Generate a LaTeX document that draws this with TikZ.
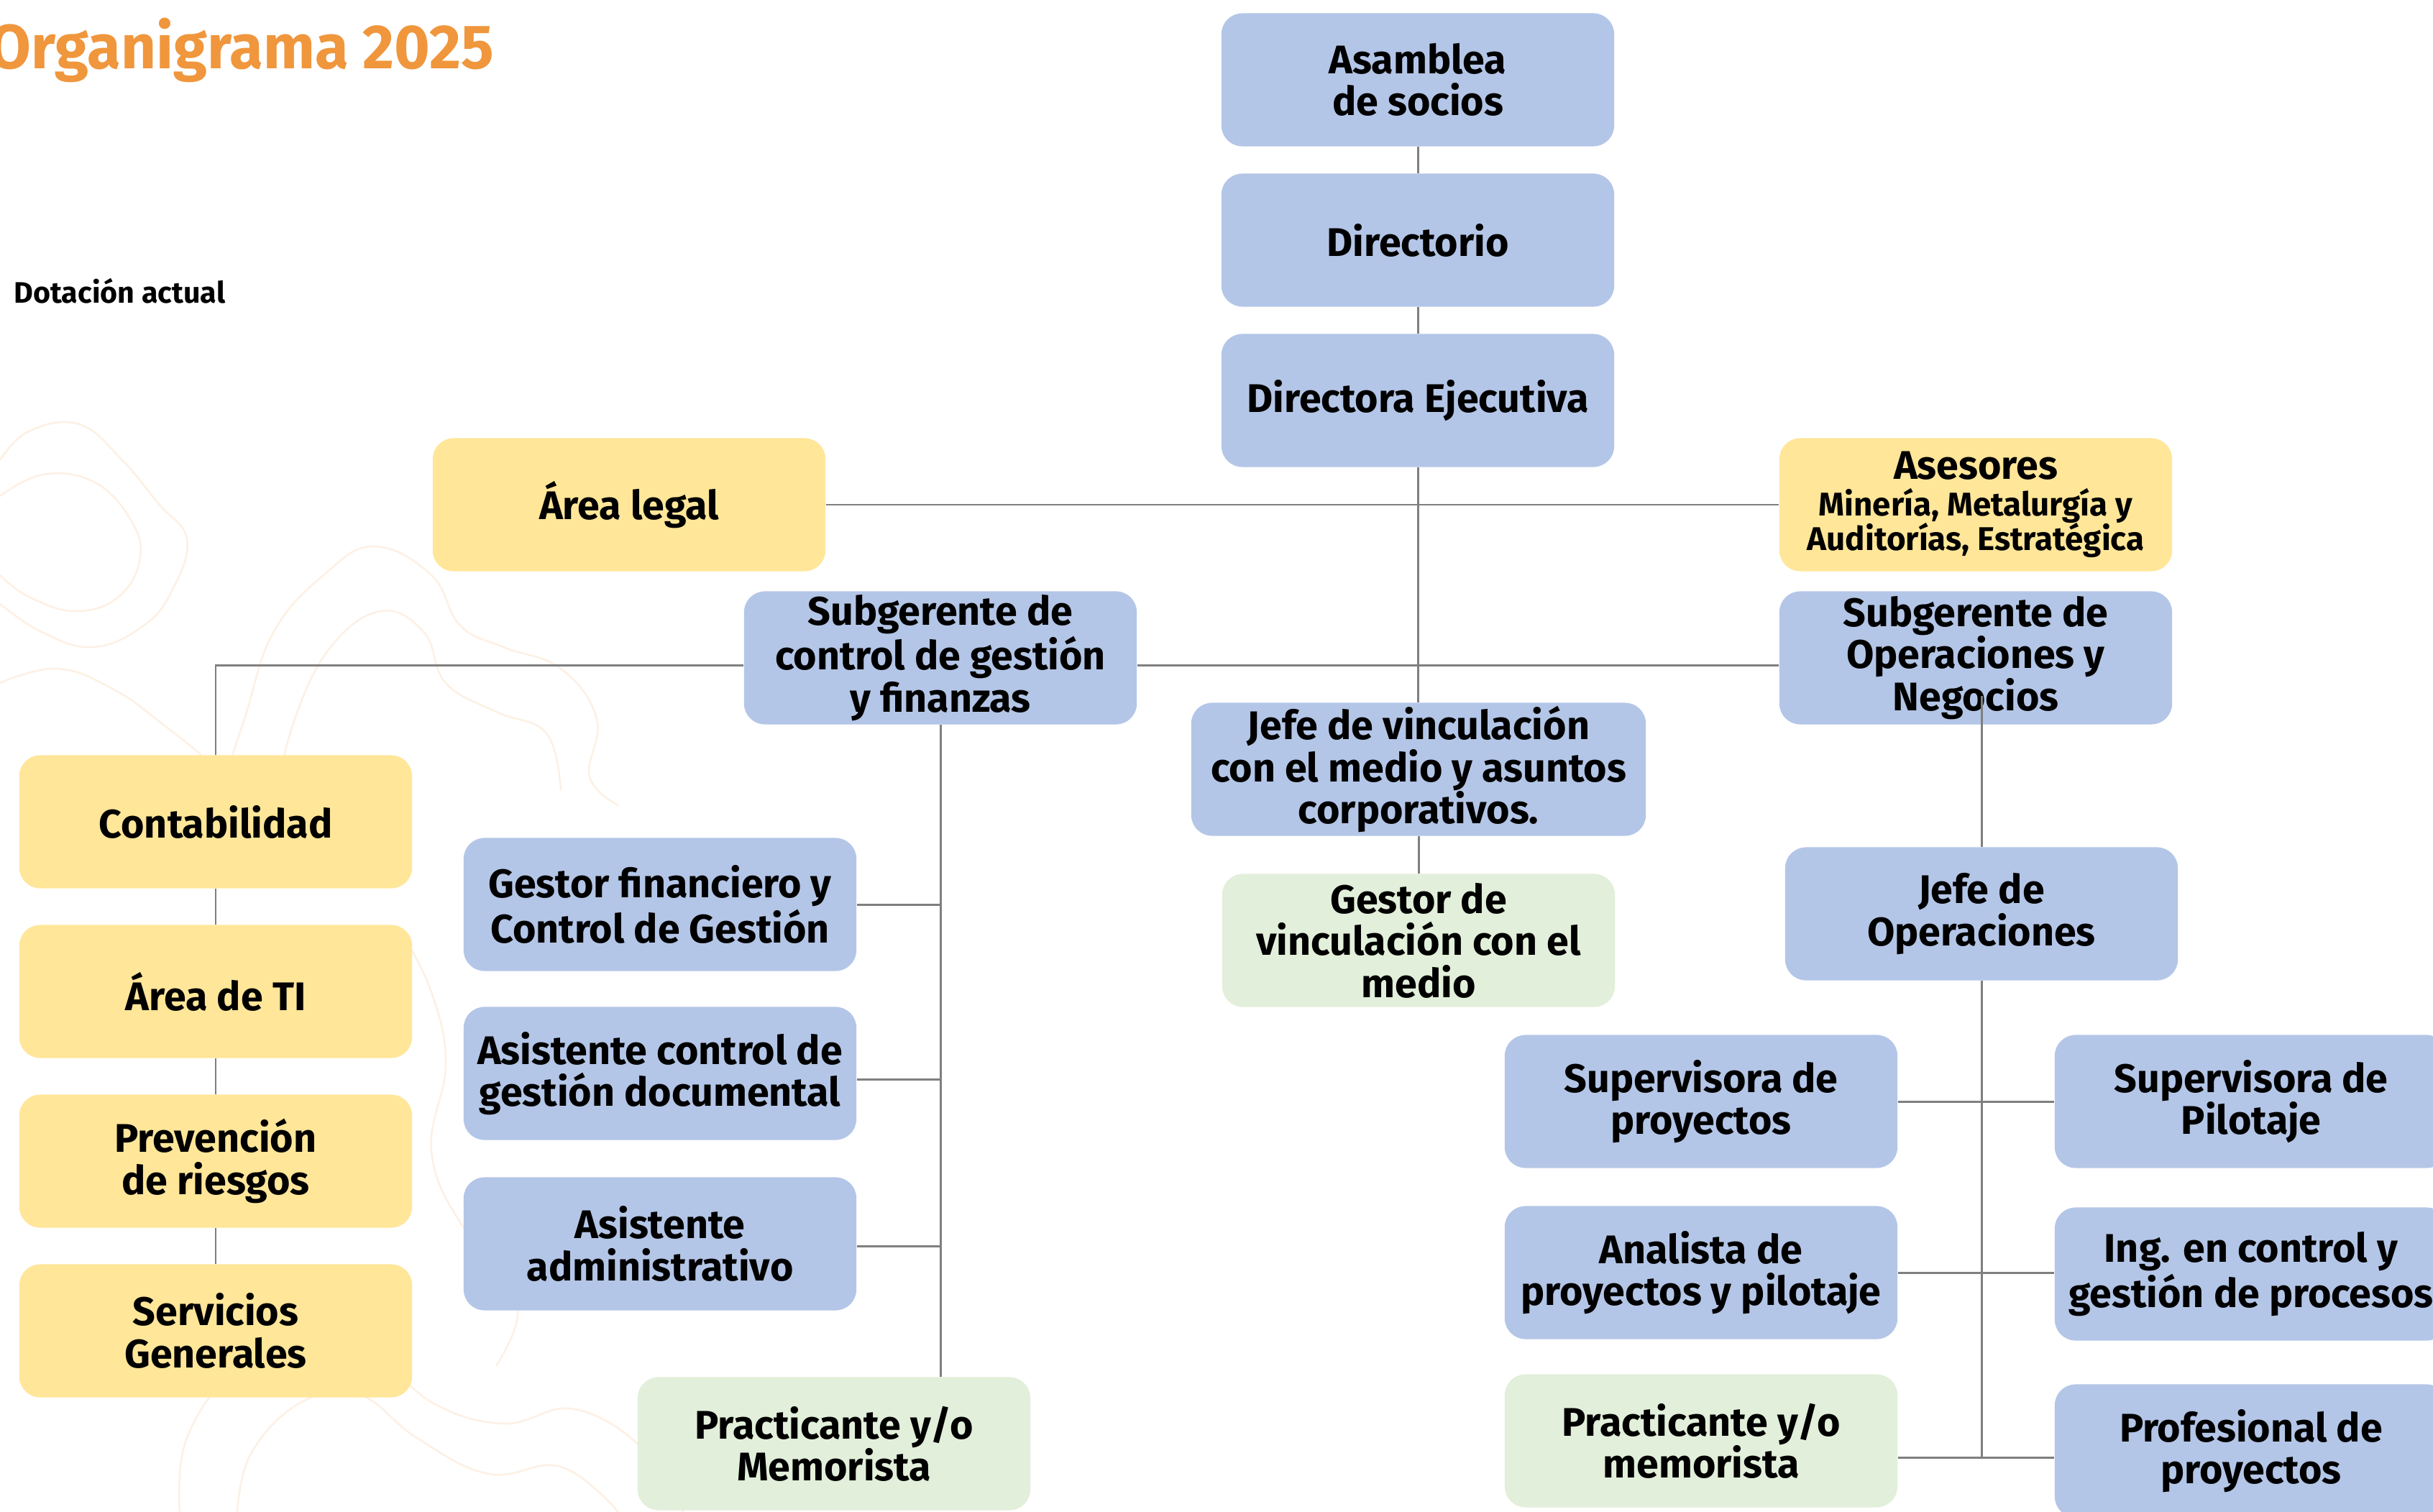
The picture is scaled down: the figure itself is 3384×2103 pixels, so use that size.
\documentclass[tikz,border=0pt]{standalone}
\usepackage{fontspec}
\usepackage{graphicx}
\setmainfont{Fira Sans}
\usetikzlibrary{calc}
\definecolor{boxblue}{HTML}{B4C6E7}
\definecolor{boxyellow}{HTML}{FFE699}
\definecolor{boxgreen}{HTML}{E2EFDA}
\definecolor{linegray}{HTML}{7F7F7F}
\definecolor{titleorange}{HTML}{F0963C}
\definecolor{contourcol}{HTML}{FDF0E3}
\begin{document}
\begin{tikzpicture}[x=0.01cm,y=-0.01cm,
  box/.style={rounded corners=0.29cm, minimum width=5.46cm, minimum height=1.85cm, inner sep=0pt, align=center, font=\bfseries\fontsize{15.8}{16.6}\selectfont, text=black},
  bluebox/.style={box, fill=boxblue},
  yellowbox/.style={box, fill=boxyellow},
  greenbox/.style={box, fill=boxgreen},
  conn/.style={draw=linegray, line width=0.85pt},
  contourline/.style={draw=contourcol, line width=0.7pt}
]
\useasboundingbox (0,0) rectangle (3384,2103);
\fill[white] (0,0) rectangle (3384,2103);

% faint background contour lines
\draw[contourline] plot[smooth, tension=0.7] coordinates {(0,640) (40,600) (110,590) (170,640) (220,700) (260,750) (240,820) (200,870) (130,900) (60,880) (0,840)};
\draw[contourline] plot[smooth, tension=0.7] coordinates {(0,690) (60,660) (130,670) (180,720) (195,775) (165,830) (105,850) (40,830) (0,800)};
\draw[contourline] plot[smooth, tension=0.7] coordinates {(300,1120) (340,1000) (380,880) (450,800) (520,760) (600,800) (640,870) (700,900) (780,930) (830,1000) (820,1080) (860,1120)};
\draw[contourline] plot[smooth, tension=0.7] coordinates {(380,1120) (410,1000) (460,900) (530,850) (590,880) (620,950) (690,990) (760,1020) (780,1100)};
\draw[contourline] plot[smooth, tension=0.7] coordinates {(0,950) (80,930) (160,960) (230,1010) (280,1050)};
\draw[contourline] plot[smooth, tension=0.7] coordinates {(250,2103) (260,2000) (330,1900) (420,1850) (520,1880) (600,1950) (700,1980) (800,1960) (900,2020) (950,2103)};
\draw[contourline] plot[smooth, tension=0.7] coordinates {(330,2103) (350,2020) (420,1950) (500,1940) (580,2000) (680,2050) (780,2040) (860,2103)};
\draw[contourline] plot[smooth, tension=0.7] coordinates {(560,1300) (600,1380) (620,1480) (600,1600) (640,1700) (700,1760) (720,1830) (690,1900)};

% title texts
\node[anchor=base west, inner sep=0pt, text=titleorange, font=\bfseries\fontsize{24.7}{28}\selectfont] (title) at (-16,96) {\scalebox{0.98}[1]{Organigrama 2025}};
\node[anchor=base west, inner sep=0pt, font=\bfseries\fontsize{11.7}{13}\selectfont] (dot) at (19,421) {Dotación actual};

% top chain
\node[bluebox] (asam) at (1972,111) {Asamblea\\de socios};
\node[bluebox] (dir) at (1972,334) {Directorio};
\node[bluebox] (de) at (1972,557) {Directora Ejecutiva};
\node[yellowbox] (legal) at (875,702) {Área legal};
\node[yellowbox] (ases) at (2748,702) {Asesores\\[-2pt]\fontsize{13}{13.4}\selectfont Minería, Metalurgía y\\[-3pt]\fontsize{13}{13.4}\selectfont Auditorías, Estratégica};
\node[bluebox] (sgf) at (1308,915) {Subgerente de\\control de gestión\\y finanzas};
\node[bluebox] (sop) at (2748,915) {Subgerente de\\Operaciones y\\Negocios};
\node[bluebox, minimum width=6.32cm] (jv) at (1973,1070) {Jefe de vinculación\\con el medio y asuntos\\corporativos.};
\node[greenbox] (gv) at (1973,1308) {Gestor de\\vinculación con el\\medio};

% left yellow column
\node[yellowbox] (cont) at (300,1143) {Contabilidad};
\node[yellowbox] (ti) at (300,1379) {Área de TI};
\node[yellowbox] (prev) at (300,1615) {Prevención\\de riesgos};
\node[yellowbox] (serv) at (300,1851) {Servicios\\Generales};

% finance column
\node[bluebox] (gf) at (918,1258) {Gestor financiero y\\Control de Gestión};
\node[bluebox] (acg) at (918,1493) {Asistente control de\\gestión documental};
\node[bluebox] (aadm) at (918,1730) {Asistente\\administrativo};
\node[greenbox] (pm1) at (1160,2008) {Practicante y/o\\Memorista};

% operations
\node[bluebox] (jop) at (2756,1271) {Jefe de\\Operaciones};
\node[bluebox] (sproy) at (2366,1532) {Supervisora de\\proyectos};
\node[bluebox] (spil) at (3131,1532) {Supervisora de\\Pilotaje};
\node[bluebox] (anal) at (2366,1770) {Analista de\\proyectos y pilotaje};
\node[bluebox] (ing) at (3131,1772) {Ing. en control y\\gestión de procesos};
\node[greenbox] (pm2) at (2366,2004) {Practicante y/o\\memorista};
\node[bluebox] (prof) at (3131,2018) {Profesional de\\proyectos};

% connectors
\draw[conn] (asam.south) -- (dir.north);
\draw[conn] (dir.south) -- (de.north);
\draw[conn] (de.south) -- (de.south |- jv.north);
\draw[conn] (legal.east) -- (ases.west);
\draw[conn] ($(sgf.east)+(0,10)$) -- ($(sop.west)+(0,10)$);
\draw[conn] ($(sgf.west)+(0,10)$) -| (cont.north);
\draw[conn] (cont.south) -- (ti.north);
\draw[conn] (ti.south) -- (prev.north);
\draw[conn] (prev.south) -- (serv.north);
\draw[conn] (sgf.south) -- (sgf.south |- pm1.north);
\draw[conn] (gf.east) -- (gf.east -| sgf.south);
\draw[conn] ($(acg.east)+(0,8)$) -- ($(acg.east -| sgf.south)+(0,8)$);
\draw[conn] ($(aadm.east)+(0,3)$) -- ($(aadm.east -| sgf.south)+(0,3)$);
\draw[conn] (jv.south) -- (gv.north);
\draw[conn] ($(jop.north |- sop.south)+(0,-40)$) -- (jop.north);
\coordinate (opbot) at ($(jop.south)+(0,663)$);
\draw[conn] (jop.south) -- (opbot);
\draw[conn] (sproy.east) -- (sproy.east -| spil.west);
\draw[conn] (anal.east) -- (anal.east -| ing.west);
\draw[conn] (opbot -| pm2.east) -- (opbot -| prof.west);
\end{tikzpicture}
\end{document}
